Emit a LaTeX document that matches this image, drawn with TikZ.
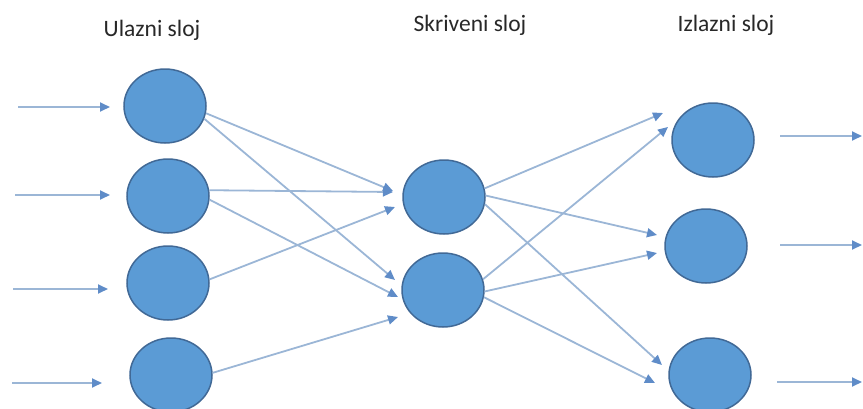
\documentclass[tikz,border=0pt]{standalone}
\usepackage{fontspec}
\setmainfont{Carlito}
\usetikzlibrary{shapes.geometric,arrows.meta,calc}
\definecolor{nfill}{RGB}{91,155,213}
\definecolor{nborder}{RGB}{65,105,150}
\definecolor{eline}{RGB}{155,182,214}
\definecolor{etip}{RGB}{95,140,200}
\definecolor{ltext}{RGB}{40,40,40}
\tikzset{
  neuron/.style={ellipse,draw=nborder,fill=nfill,line width=1.5pt,minimum width=82pt,minimum height=74pt,inner sep=0pt},
  edge/.style={draw=eline,line width=1.8pt,-{Triangle[length=10pt,width=9pt,color=etip]}},
  layerlabel/.style={text=ltext,font=\fontsize{23.5}{26}\selectfont,inner sep=0pt}
}
\begin{document}
\begin{tikzpicture}[x=1pt,y=-1pt]
\useasboundingbox (0,0) rectangle (863,408);
% labels
\node[layerlabel] (lin) at (152,30) {Ulazni sloj};
\node[layerlabel] (lhid) at (470,25) {Skriveni sloj};
\node[layerlabel] (lout) at (726,25) {Izlazni sloj};
% neurons
\node[neuron] (i1) at (165,106) {};
\node[neuron] (i2) at (168,196) {};
\node[neuron] (i3) at (168,283) {};
\node[neuron] (i4) at (171,375) {};
\node[neuron] (h1) at (444,197) {};
\node[neuron] (h2) at (443,290) {};
\node[neuron] (o1) at (713,140) {};
\node[neuron] (o2) at (706,246) {};
\node[neuron] (o3) at (710,375) {};
% input arrows
\coordinate (a1s) at (18,107);  \coordinate (a1e) at (110,107);
\coordinate (a2s) at (15,195);  \coordinate (a2e) at (110,195);
\coordinate (a3s) at (13,289);  \coordinate (a3e) at (108,289);
\coordinate (a4s) at (12,383);  \coordinate (a4e) at (102,383);
\draw[edge] (a1s) -- (a1e);
\draw[edge] (a2s) -- (a2e);
\draw[edge] (a3s) -- (a3e);
\draw[edge] (a4s) -- (a4e);
% output arrows
\coordinate (b1s) at (780,136); \coordinate (b1e) at (862,136);
\coordinate (b2s) at (780,245); \coordinate (b2e) at (862,245);
\coordinate (b3s) at (777,382); \coordinate (b3e) at (862,382);
\draw[edge] (b1s) -- (b1e);
\draw[edge] (b2s) -- (b2e);
\draw[edge] (b3s) -- (b3e);
% input -> hidden
\draw[edge] (i1.-10) -- ($(h1)+(-51,-6)$);
\draw[edge] (i1.-18) -- ($(h2)+(-48,-10)$);
\draw[edge] (i2.8) -- ($(h1)+(-51,-5)$);
\draw[edge] (i2.-5) -- ($(h2)+(-45,7)$);
\draw[edge] (i3.5) -- ($(h1)+(-49,10)$);
\draw[edge] (i4.3) -- ($(h2)+(-45,27)$);
% hidden -> output
\draw[edge] (h1.12) -- ($(o1)+(-50,-27)$);
\draw[edge] (h1.2) -- ($(o2)+(-49,-11)$);
\draw[edge] (h1.-10) -- ($(o3)+(-48,-10)$);
\draw[edge] (h2.15) -- ($(o1)+(-45,-13)$);
\draw[edge] (h2.-2) -- ($(o2)+(-49,7)$);
\draw[edge] (h2.-10) -- ($(o3)+(-55,8)$);
\end{tikzpicture}
\end{document}
